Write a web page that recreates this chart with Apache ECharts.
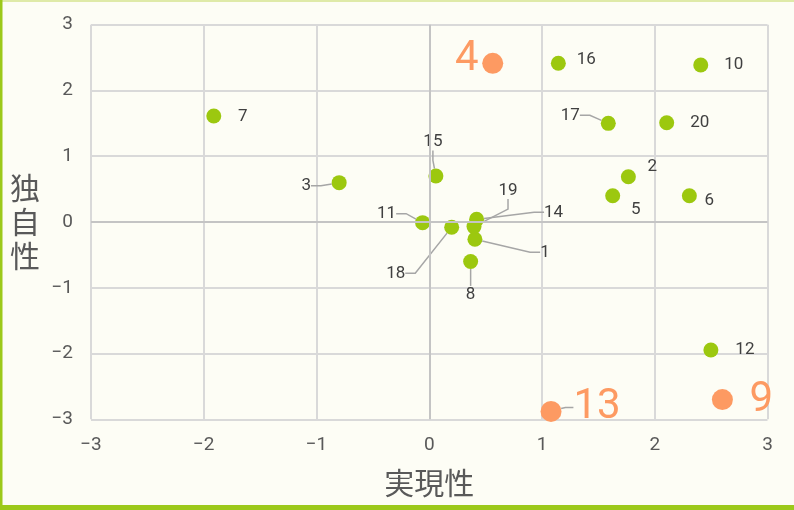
<!DOCTYPE html>
<html><head><meta charset="utf-8">
<script src="https://cdn.jsdelivr.net/npm/echarts@6/dist/echarts.min.js"></script>
<style>html,body{margin:0;padding:0;background:#fdfdf5}#c{width:794px;height:510px}</style>
</head><body><div id="c"></div>
<script>
// ---- data ----
const xTicks = [-3, -2, -1, 0, 1, 2, 3];
const yTicks = [-3, -2, -1, 0, 1, 2, 3];
const xAxisName = '実現性';
const yAxisName = '独自性';

const greenIds = ['1','2','3','5','6','7','8','10','11','12','14','15','16','17','18','19','20'];
const greenX   = [0.405, 1.766, -0.799, 1.627, 2.307, -1.911, 0.367, 2.408, -0.059, 2.498, 0.420, 0.059, 1.145, 1.588, 0.199, 0.397, 2.106];
const greenY   = [-0.263, 0.689, 0.598, 0.400, 0.400, 1.612, -0.600, 2.387, -0.010, -1.946, 0.040, 0.700, 2.413, 1.500, -0.080, -0.070, 1.510];

const orangeIds = ['4','9','13'];
const orangeX   = [0.563, 2.600, 1.080];
const orangeY   = [2.413, -2.700, -2.880];

// label placement (offset of label from its point, px) and leader-line flag
const labelOffset = {
  '1':[70,13,1], '2':[24,-10,0], '3':[-33,3,1], '5':[23,14,0], '6':[20,5,0], '7':[29,1,0],
  '8':[0,33,1], '10':[33,0,0], '11':[-36,-9,1], '12':[34,0,0], '14':[77,-7,1], '15':[-3,-34,1],
  '16':[28,-4,0], '17':[-38,-8,1], '18':[-56,46,1], '19':[34,-36,1], '20':[33,0,0],
  '4':[-26,-4,0], '9':[39,1,0], '13':[46,-4,1]
};

const narrow = "'Roboto','Liberation Sans',sans-serif";
const cjk = "'Noto Sans CJK JP','Noto Sans',sans-serif";
const fmt = v => String(v).replace('-', '\u2212');

function items(ids, xs, ys) {
  return ids.map((id, i) => ({
    name: id,
    value: [xs[i], ys[i]],
    labelLine: { show: !!labelOffset[id][2] }
  }));
}
function layout(ids) {
  return function (p) {
    const o = labelOffset[ids[p.dataIndex]];
    return { dx: o[0], dy: o[1] };
  };
}

const chart = echarts.init(document.getElementById('c'), null, { renderer: 'canvas' });
chart.setOption({
  backgroundColor: '#fdfdf5',
  animation: false,
  graphic: [
    { type: 'rect', shape: { x: 0, y: 0, width: 794, height: 2 }, style: { fill: '#dfeaa8' }, z: 100 },
    { type: 'rect', shape: { x: 0, y: 0, width: 2.5, height: 510 }, style: { fill: '#9cc91a' }, z: 100 },
    { type: 'rect', shape: { x: 0, y: 505, width: 794, height: 5 }, style: { fill: '#9cc91a' }, z: 100 }
  ],
  grid: { left: 91, right: 26.5, top: 24.7, bottom: 90.7, containLabel: false, outerBoundsMode: 'none' },
  xAxis: {
    type: 'value', min: -3, max: 3, interval: 1,
    axisLine: { show: false }, axisTick: { show: false },
    splitLine: { show: true, lineStyle: { color: '#d9d9d9', width: 2 } },
    axisLabel: { formatter: fmt, color: '#595959', fontSize: 19, fontFamily: narrow, margin: 16 },
    name: xAxisName, nameLocation: 'middle', nameGap: 48, nameMoveOverlap: false,
    nameTextStyle: { color: '#595959', fontSize: 30, fontFamily: cjk }
  },
  yAxis: {
    type: 'value', min: -3, max: 3, interval: 1,
    axisLine: { show: false }, axisTick: { show: false },
    splitLine: { show: true, lineStyle: { color: '#d9d9d9', width: 2 } },
    axisLabel: { formatter: fmt, color: '#595959', fontSize: 19, fontFamily: narrow, margin: 18 },
    name: yAxisName.split('').join('\n'), nameLocation: 'middle', nameGap: 66, nameRotate: 0,
    nameMoveOverlap: false,
    nameTextStyle: { color: '#595959', fontSize: 30, fontFamily: cjk, lineHeight: 34, align: 'center', verticalAlign: 'middle' }
  },
  series: [
    {
      type: 'scatter', name: 'green', symbolSize: 15,
      itemStyle: { color: '#9cc80f', opacity: 1 },
      data: items(greenIds, greenX, greenY),
      label: {
        show: true, position: 'inside', formatter: '{b}', color: '#404040',
        fontSize: 17, fontFamily: narrow, textBorderWidth: 0, padding: [0, 4]
      },
      labelLine: { length2: 10, lineStyle: { color: '#a6a6a6', width: 1.5 } },
      labelLayout: layout(greenIds),
      markLine: {
        silent: true, symbol: 'none', label: { show: false },
        lineStyle: { color: '#c4c4c4', width: 2, type: 'solid' },
        data: [{ xAxis: 0 }, { yAxis: 0 }]
      },
      z: 3
    },
    {
      type: 'scatter', name: 'orange', symbolSize: 21,
      itemStyle: { color: '#fd9a62', opacity: 1 },
      data: items(orangeIds, orangeX, orangeY),
      label: {
        show: true, position: 'inside', formatter: '{b}', color: '#fd9a62',
        fontSize: 42, fontFamily: narrow, textBorderWidth: 0, padding: [0, 4]
      },
      labelLine: { length2: 8, lineStyle: { color: '#a6a6a6', width: 1.5 } },
      labelLayout: layout(orangeIds),
      z: 4
    }
  ]
});
</script></body></html>
